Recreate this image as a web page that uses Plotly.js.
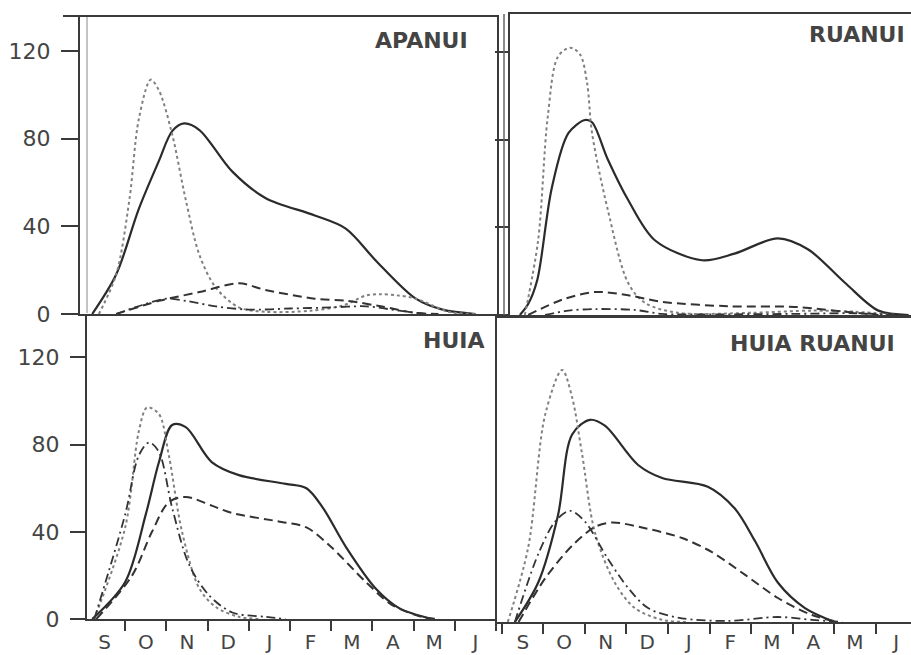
<!DOCTYPE html>
<html>
<head>
<meta charset="utf-8">
<script src="https://cdn.plot.ly/plotly-3.0.1.min.js"></script>
<style>html,body{margin:0;padding:0;background:#fff;}#chart{width:911px;height:655px;}</style>
</head>
<body>
<div id="chart"></div>
<script>
// Month labels (x = months since 1 September)
const monthLabels = ["S","O","N","D","J","F","M","A","M","J"];
const monthCenters = [0.5,1.5,2.5,3.5,4.5,5.5,6.5,7.5,8.5,9.5];
const yTicks = [0,40,80,120];
const panelTitles = ["APANUI","RUANUI","HUIA","HUIA RUANUI"];

// APANUI
const apSolidX = [0.2,0.78,1.33,1.82,2.14,2.43,2.8,3.6,4.4,5.6,6.35,7.1,8.05,8.7,9.5];
const apSolidY = [0,18,48,70,83.5,87,84,65,53,45,39,24,7,2,0];
const apDotX = [0.36,0.78,1.1,1.33,1.62,1.82,2.14,2.47,2.8,3.2,3.76,4.4,5.5,6.3,6.85,7.2,7.6,8.05,8.85,9.5];
const apDotY = [0,18,52,89,107,102,82,52,27,12,3,1,1.5,4,8.5,9,8.5,7,1,0];
const apDashX = [0.78,1.82,2.8,3.76,4.4,5.6,6.4,7.2,8.05,8.6];
const apDashY = [0,6,10,14,11,7,6,3.5,0.5,0];
const apDashDotX = [0.78,1.4,2.0,2.47,3.2,4.0,5.0,6.0,6.85,7.65,8.3];
const apDashDotY = [0,4,7,6,3.5,2,2.5,3,3.5,1.5,0];

// RUANUI
const ruSolidX = [0.43,0.63,0.85,1.2,1.6,2.0,2.17,2.55,3.04,3.69,4.82,5.6,6.65,7.37,8.27,9.07,9.8];
const ruSolidY = [0,5,16,58,83,89,88,71,52.5,34,25,28,35,30,14.6,2,0];
const ruDotX = [0.55,0.87,1.1,1.35,1.64,1.88,2.05,2.17,2.55,3.04,3.45,4.24,6,7.5,8.5,9.5];
const ruDotY = [0,34,90,118,122,119,106,83,48,14.6,5.5,1,1,2,1.5,0];
const ruDashX = [0.63,1.45,2.24,3.04,3.86,5.45,7.06,8.27,9.07];
const ruDashY = [0,7,10.5,9,6,4,3.7,1.5,0];
const ruDashDotX = [1.04,1.6,2.24,3.2,3.86,5,7,8.5,9.5];
const ruDashDotY = [0,2,2.7,2.3,0.5,0.3,0.5,0.8,0];

// HUIA
const huSolidX = [0.2,1.0,1.5,1.82,2.14,2.47,3.1,3.76,4.9,5.4,5.8,6.36,7.08,7.65,8.45];
const huSolidY = [0,17,48,72,89,88,72,66,62,60,51,33,14,5,0];
const huDotX = [0.25,1.0,1.33,1.53,1.82,2.06,2.38,2.8,3.2,3.76,4.3];
const huDotY = [0,42,86,97,94,75,40,14,5.5,1,0];
const huDashX = [0.3,1.17,1.65,2.06,2.47,3.1,3.6,4.8,5.4,6.0,6.84,7.48,8.2,8.6];
const huDashY = [0,20,40,53.6,56,52,48.6,44.5,42,33,17,6.4,1,0];
const huDashDotX = [0.25,1.0,1.33,1.58,1.82,2.14,2.55,3.03,3.6,4.4,4.9];
const huDashDotY = [0,48,75,81,76.6,51,25,11,3,1,0];

// HUIA RUANUI
const hrSolidX = [0.31,0.87,1.35,1.69,2.12,2.48,3.28,3.86,4.96,5.61,6.1,6.65,7.3,8.02];
const hrSolidY = [0,18,49,86,92.7,90,72,66,62,52,37,18,6.4,0];
const hrDotX = [0.14,0.63,1.04,1.45,1.69,1.93,2.24,2.72,3.2,3.86,4.5];
const hrDotY = [0,34,95,115.6,103,77,41,18,6.4,1,0];
const hrDashX = [0.4,1.04,1.69,2.24,2.65,3.45,4.34,5.06,5.86,6.65,7.47,8.1];
const hrDashY = [0,20,35,43.6,45.6,43,38.5,32,21.6,11,3.2,0];
const hrDashDotX = [0.31,0.87,1.28,1.64,2.0,2.55,3.04,3.52,4.24,5.45,6.65,7.47,8.2];
const hrDashDotY = [0,31,46,51,46,29,15.6,6.4,2,0.5,2.3,1,0];

const W = 911, H = 655;
const px = v => v / W;
const py = v => 1 - v / H;

const styles = {
  solid: {color:"#2b2b2b", width:2.2, dash:"solid"},
  dot: {color:"#808080", width:2, dash:"dot"},
  dash: {color:"#333", width:2, dash:"9px,5px"},
  dashdot: {color:"#333", width:1.8, dash:"9px,4px,2px,4px"}
};
function tr(x, y, st, ax) {
  return {x:x, y:y, type:"scatter", mode:"lines", xaxis:"x"+ax, yaxis:"y"+ax,
    line:Object.assign({shape:"spline", smoothing:0.9}, styles[st]), hoverinfo:"skip"};
}
const data = [
  tr(apSolidX, apSolidY, "solid", ""), tr(apDotX, apDotY, "dot", ""), tr(apDashX, apDashY, "dash", ""), tr(apDashDotX, apDashDotY, "dashdot", ""),
  tr(ruSolidX, ruSolidY, "solid", "2"), tr(ruDotX, ruDotY, "dot", "2"), tr(ruDashX, ruDashY, "dash", "2"), tr(ruDashDotX, ruDashDotY, "dashdot", "2"),
  tr(huSolidX, huSolidY, "solid", "3"), tr(huDotX, huDotY, "dot", "3"), tr(huDashX, huDashY, "dash", "3"), tr(huDashDotX, huDashDotY, "dashdot", "3"),
  tr(hrSolidX, hrSolidY, "solid", "4"), tr(hrDotX, hrDotY, "dot", "4"), tr(hrDashX, hrDashY, "dash", "4"), tr(hrDashDotX, hrDashDotY, "dashdot", "4")
];

const lineC = "#3a3a3a";
const tickFont = {family:"DejaVu Sans", size:22, color:"#444"};
const monthFont = {family:"DejaVu Sans", size:20, color:"#444"};

function xAx(dom, rng, labels, anchor, standoff) {
  const a = {domain:dom, range:rng, anchor:anchor, showgrid:false, zeroline:false, showline:true, linecolor:lineC, linewidth:2, mirror:true, fixedrange:true};
  if (labels) {
    Object.assign(a, {tickmode:"array", tickvals:monthCenters, ticktext:monthLabels, ticks:"", tickfont:monthFont, ticklabelstandoff:standoff,
      minor:{tickmode:"linear", tick0:0, dtick:1, ticks:"outside", ticklen:10, tickwidth:2, tickcolor:lineC, showgrid:false}});
  } else {
    Object.assign(a, {showticklabels:false, ticks:""});
  }
  return a;
}
function yAx(dom, rng, labels, mirror, ticklen, anchor) {
  const a = {domain:dom, range:rng, anchor:anchor, showgrid:false, zeroline:false, showline:true, linecolor:lineC, linewidth:2, mirror:mirror, fixedrange:true,
    tickmode:"array", tickvals:yTicks, ticks: ticklen ? "outside" : "", ticklen:ticklen||0, tickwidth:2, tickcolor:lineC};
  if (labels) { a.tickfont = tickFont; a.ticklabelstandoff = 6; } else { a.showticklabels = false; }
  return a;
}

const layout = {
  width:W, height:H, margin:{l:0,r:0,t:0,b:0}, showlegend:false,
  paper_bgcolor:"#fff", plot_bgcolor:"#fff",
  xaxis: xAx([px(80), px(497)], [-0.097, 10.02], false, "y", 0),
  yaxis: yAx([py(314), py(17)], [0, 135.6], true, true, 17, "x"),
  xaxis2: xAx([px(510), 1], [0.193, 9.855], false, "y2", 0),
  yaxis2: yAx([py(315), py(14)], [0, 137.4], false, false, 13, "x2"),
  xaxis3: xAx([px(87), px(498)], [0.073, 10.05], true, "y3", 4),
  yaxis3: yAx([py(619), py(316)], [0, 139], true, true, 15, "x3"),
  xaxis4: xAx([px(497), 1], [-0.12, 9.855], true, "y4", 1),
  yaxis4: yAx([py(622), py(318)], [0, 139.4], false, false, 0, "x4"),
  annotations: [
    {text:panelTitles[0], x:px(470), y:py(41), xanchor:"right", yanchor:"middle"},
    {text:panelTitles[1], x:px(907), y:py(35), xanchor:"right", yanchor:"middle"},
    {text:panelTitles[2], x:px(487), y:py(340), xanchor:"right", yanchor:"middle"},
    {text:panelTitles[3], x:px(897), y:py(343), xanchor:"right", yanchor:"middle"}
  ].map(a => Object.assign(a, {xref:"paper", yref:"paper", showarrow:false,
      font:{family:"DejaVu Sans", size:22, color:"#444", weight:"bold"}})),
  shapes: [
    {type:"line", xref:"paper", yref:"paper", x0:px(63), x1:px(80), y0:py(16), y1:py(16), line:{color:lineC, width:2}},
    {type:"line", xref:"paper", yref:"paper", x0:px(87), x1:px(87), y0:py(17), y1:py(313), line:{color:"#888", width:1}},
    {type:"line", xref:"paper", yref:"paper", x0:px(504), x1:px(504), y0:py(14), y1:py(315), line:{color:"#666", width:1.5}}
  ]
};

Plotly.newPlot("chart", data, layout, {displayModeBar:false, staticPlot:true});
</script>
</body>
</html>
